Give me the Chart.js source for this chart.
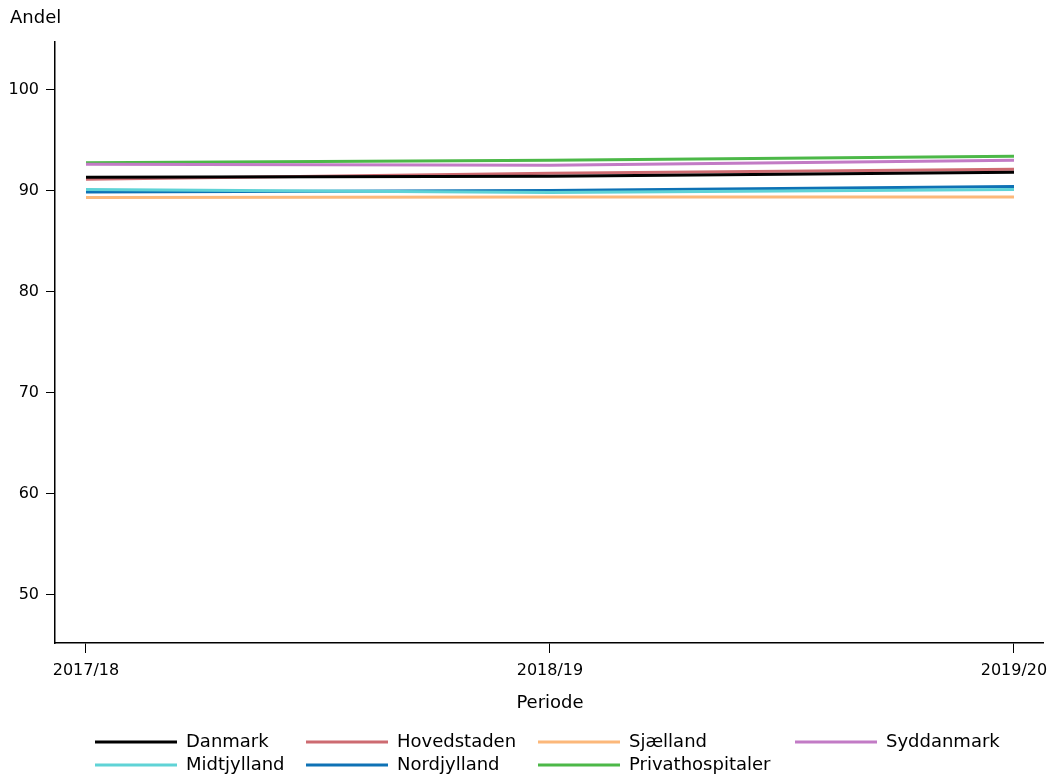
<!DOCTYPE html>
<html>
<head>
<meta charset="utf-8">
<script src="https://cdn.jsdelivr.net/npm/chart.js@4"></script>
<style>
	html, body { margin: 0; padding: 0; background: #fff; }
	#wrap { width: 1052px; height: 776px; position: relative; }
</style>
</head>
<body>
<div id="wrap"><canvas id="myChart" width="1052" height="776"></canvas></div>
<script>
// periods on the x axis
const periods = ['2017/18', '2018/19', '2019/20'];
const yTicks = [50, 60, 70, 80, 90, 100];

// share per region, one value per period
const danmark = [91.3, 91.4, 91.8];
const hovedstaden = [91.1, 91.7, 92.1];
const sjaelland = [89.3, 89.35, 89.35];
const syddanmark = [92.6, 92.5, 93.0];
const midtjylland = [90.1, 89.8, 90.1];
const nordjylland = [89.85, 90.0, 90.4];
const privathospitaler = [92.75, 93.0, 93.4];

const names = ['Danmark', 'Hovedstaden', 'Sjælland', 'Syddanmark', 'Midtjylland', 'Nordjylland', 'Privathospitaler'];
const colors = ['#000000', '#cd6b71', '#fcb87a', '#c27bc5', '#5fd3d6', '#0e72b5', '#4cb848'];
const series = [danmark, hovedstaden, sjaelland, syddanmark, midtjylland, nordjylland, privathospitaler];

const FONT = "'DejaVu Sans', sans-serif";

function toPoints(arr) {
	return arr.map(function (v, i) { return {x: i, y: v}; });
}

// draws "Andel", "Periode" and the legend
const extras = {
	id: 'extras',
	afterDraw: function (chart) {
		const ctx = chart.ctx;
		ctx.save();
		ctx.fillStyle = '#000';
		ctx.font = '18px ' + FONT;
		ctx.textBaseline = 'middle';
		ctx.textAlign = 'left';
		ctx.fillText('Andel', 10, 18);
		ctx.textAlign = 'center';
		ctx.fillText('Periode', 550, 703);

		const colX = [95, 306, 538, 795];
		const rowY = [742, 765];
		ctx.textAlign = 'left';
		chart.data.datasets.forEach(function (ds, i) {
			const x = colX[i % 4];
			const y = rowY[Math.floor(i / 4)];
			ctx.strokeStyle = ds.borderColor;
			ctx.lineWidth = 3;
			ctx.beginPath();
			ctx.moveTo(x, y);
			ctx.lineTo(x + 82, y);
			ctx.stroke();
			ctx.fillStyle = '#000';
			ctx.fillText(ds.label, x + 91, y);
		});
		ctx.restore();
	}
};

window.myChart = new Chart(document.getElementById('myChart').getContext('2d'), {
	type: 'line',
	data: {
		datasets: series.map(function (s, i) {
			return {
				label: names[i],
				data: toPoints(s),
				borderColor: colors[i],
				backgroundColor: colors[i],
				borderWidth: 3,
				pointRadius: 0,
				tension: 0
			};
		})
	},
	options: {
		responsive: false,
		animation: false,
		layout: { padding: { top: 42, right: 9, bottom: 0, left: 0 } },
		plugins: {
			legend: { display: false },
			tooltip: { enabled: false }
		},
		scales: {
			x: {
				type: 'linear',
				min: -0.0668,
				max: 2.0625,
				afterBuildTicks: function (scale) {
					scale.ticks = periods.map(function (p, i) { return {value: i}; });
				},
				afterFit: function (scale) {
					scale.height = 133;
					scale.paddingLeft = 0;
					scale.paddingRight = 0;
				},
				grid: { display: true, drawOnChartArea: false, drawTicks: true, tickLength: 10, color: '#000', lineWidth: 1 },
				border: { display: true, color: '#000', width: 1.5 },
				ticks: {
					color: '#000',
					font: { family: FONT, size: 16 },
					padding: 8,
					maxRotation: 0,
					callback: function (v) { return periods[v]; }
				}
			},
			y: {
				min: 45.2,
				max: 104.7,
				afterBuildTicks: function (scale) {
					scale.ticks = yTicks.map(function (v) { return {value: v}; });
				},
				afterFit: function (scale) {
					scale.width = 55;
					scale.paddingTop = 0;
					scale.paddingBottom = 0;
				},
				grid: { display: true, drawOnChartArea: false, drawTicks: true, tickLength: 9, color: '#000', lineWidth: 1 },
				border: { display: true, color: '#000', width: 1.5 },
				ticks: {
					color: '#000',
					font: { family: FONT, size: 16 },
					padding: 7
				}
			}
		}
	},
	plugins: [extras]
});
</script>
</body>
</html>
